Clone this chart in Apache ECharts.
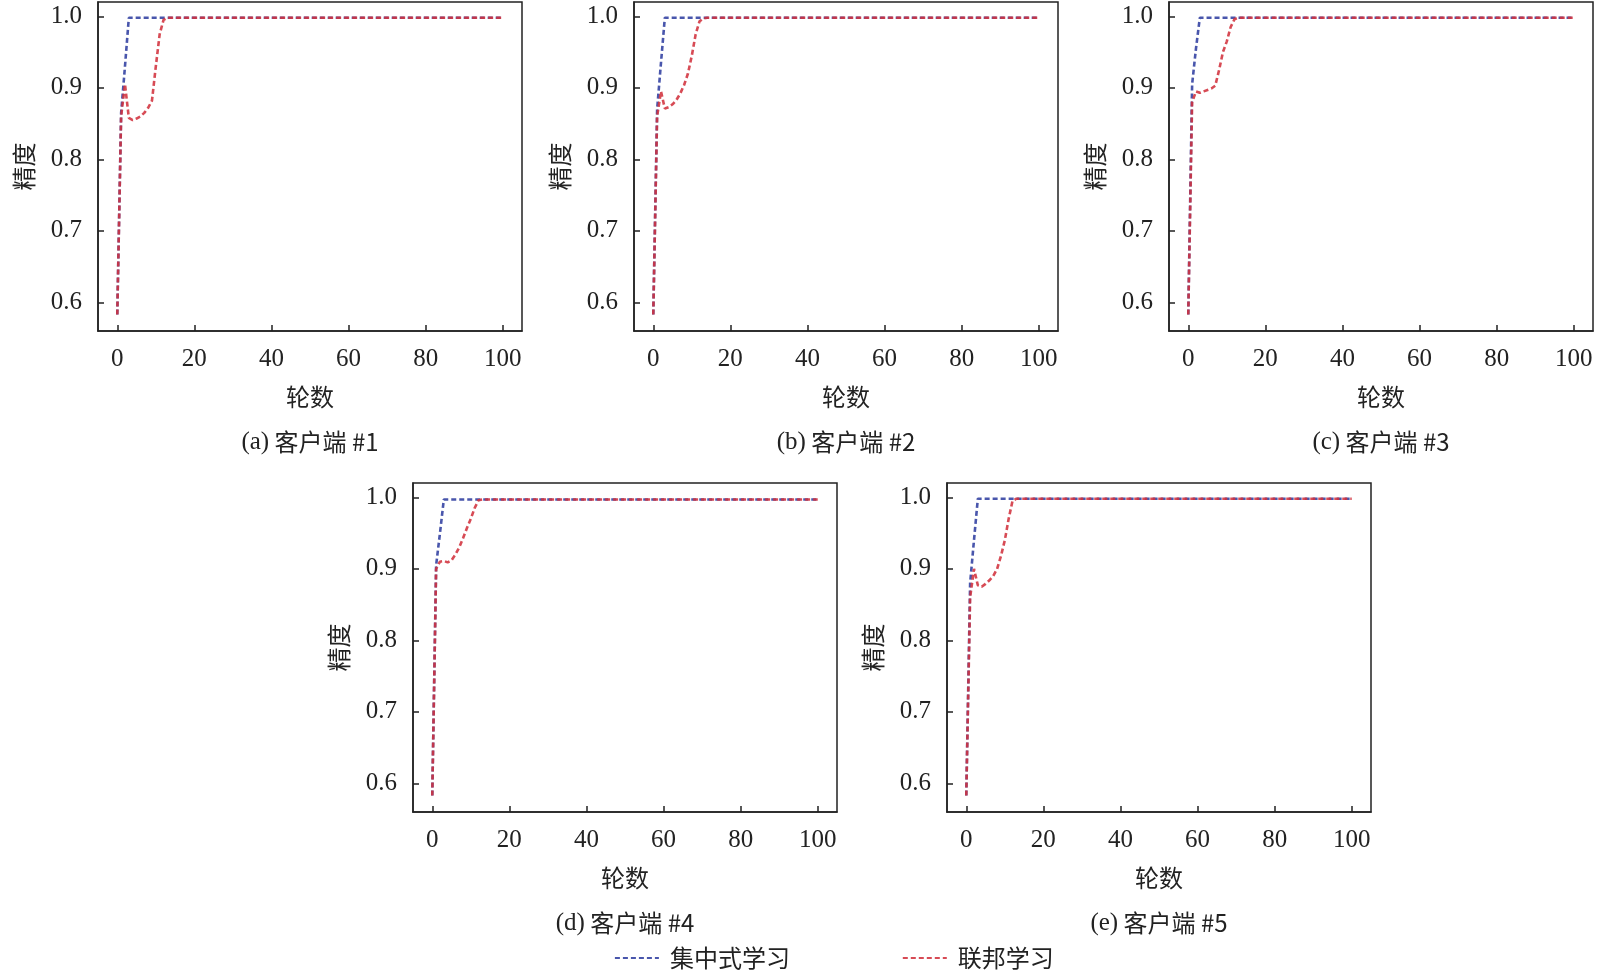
<!DOCTYPE html>
<html><head><meta charset="utf-8">
<script src="https://cdn.jsdelivr.net/npm/echarts@6/dist/echarts.min.js"></script>
<style>html,body{margin:0;padding:0;background:#fff}#c{width:1600px;height:972px}</style>
</head><body><div id="c"></div>
<script>
// ---- data ----
const rounds = [0,1,2,3,4,5,6,7,8,9,10,11,12,13,14,100];
const xTicks = [0,20,40,60,80,100];
const yTicks = [0.6,0.7,0.8,0.9,1.0];
const panelTags = ['(a)','(b)','(c)','(d)','(e)'];
const clientNames = ['客户端 #1','客户端 #2','客户端 #3','客户端 #4','客户端 #5'];
const seriesNames = ['集中式学习','联邦学习'];

const centralA = [0.583,0.865,0.930,0.998,0.998,0.998,0.998,0.998,0.998,0.998,0.998,0.998,0.998,0.998,0.998,0.998];
const fedA     = [0.583,0.860,0.905,0.858,0.855,0.857,0.860,0.865,0.872,0.882,0.930,0.975,0.995,0.998,0.998,0.998];
const centralB = [0.583,0.870,0.935,0.998,0.998,0.998,0.998,0.998,0.998,0.998,0.998,0.998,0.998,0.998,0.998,0.998];
const fedB     = [0.583,0.860,0.895,0.871,0.873,0.877,0.883,0.892,0.904,0.920,0.945,0.975,0.993,0.997,0.998,0.998];
const centralC = [0.583,0.905,0.955,0.998,0.998,0.998,0.998,0.998,0.998,0.998,0.998,0.998,0.998,0.998,0.998,0.998];
const fedC     = [0.583,0.880,0.895,0.893,0.895,0.897,0.899,0.903,0.925,0.950,0.965,0.985,0.996,0.998,0.998,0.998];
const centralD = [0.583,0.905,0.950,0.997,0.997,0.997,0.997,0.997,0.997,0.997,0.997,0.997,0.997,0.997,0.997,0.997];
const fedD     = [0.583,0.900,0.910,0.911,0.909,0.912,0.920,0.930,0.943,0.957,0.970,0.985,0.996,0.997,0.997,0.997];
const centralE = [0.583,0.880,0.940,0.998,0.998,0.998,0.998,0.998,0.998,0.998,0.998,0.998,0.998,0.998,0.998,0.998];
const fedE     = [0.583,0.860,0.900,0.877,0.875,0.879,0.884,0.890,0.900,0.918,0.940,0.970,0.995,0.998,0.998,0.998];

const centralAll = [centralA, centralB, centralC, centralD, centralE];
const fedAll = [fedA, fedB, fedC, fedD, fedE];

// ---- layout ----
const gridPos = [[98,2],[634,2],[1169,2],[413,483],[947,483]];
const GW = 424, GH = 329;
const serif = 'Liberation Serif';
const cjk = 'Noto Sans CJK SC';
const ink = '#222';
const blue = 'rgba(58,72,165,0.92)';
const red = 'rgba(210,50,62,0.88)';

const grids = [], xAxes = [], yAxes = [], series = [], graphics = [];
gridPos.forEach((p, i) => {
  grids.push({left:p[0], top:p[1], width:GW, height:GH, show:true, borderColor:ink, borderWidth:1.5, containLabel:false});
  xAxes.push({
    gridIndex:i, type:'value', min:-5, max:105,
    axisLine:{show:true, onZero:false, lineStyle:{color:ink, width:1.5}},
    axisTick:{show:true, inside:true, length:6, customValues:xTicks, lineStyle:{color:ink, width:1.5}},
    axisLabel:{customValues:xTicks, fontFamily:serif, fontSize:25, color:ink, margin:16},
    splitLine:{show:false},
    name:'轮数', nameLocation:'middle', nameGap:54,
    nameTextStyle:{fontFamily:cjk, fontSize:24, color:ink}
  });
  yAxes.push({
    gridIndex:i, type:'value', min:0.56, max:1.02,
    axisLine:{show:true, onZero:false, lineStyle:{color:ink, width:1.5}},
    axisTick:{show:true, inside:true, length:6, customValues:yTicks, lineStyle:{color:ink, width:1.5}},
    axisLabel:{customValues:yTicks, fontFamily:serif, fontSize:25, color:ink, margin:16,
      formatter:v => Number(v).toFixed(1)},
    splitLine:{show:false},
    name:'精度', nameLocation:'middle', nameRotate:90, nameGap:62,
    nameTextStyle:{fontFamily:cjk, fontSize:24, color:ink}
  });
  series.push({
    name:seriesNames[0], type:'line', xAxisIndex:i, yAxisIndex:i,
    data: rounds.map((r, k) => [r, centralAll[i][k]]),
    showSymbol:false, symbol:'none', smooth:false,
    lineStyle:{color:blue, width:2.6, type:[5,3]}, itemStyle:{color:blue}, z:2
  });
  series.push({
    name:seriesNames[1], type:'line', xAxisIndex:i, yAxisIndex:i,
    data: rounds.map((r, k) => [r, fedAll[i][k]]),
    showSymbol:false, symbol:'none', smooth:false,
    lineStyle:{color:red, width:2.6, type:[5,3]}, itemStyle:{color:red}, z:3
  });
  graphics.push({
    type:'text', x:p[0] + GW/2, y:p[1] + 440,
    style:{
      text:'{p|' + panelTags[i] + '} {t|' + clientNames[i] + '}',
      rich:{p:{fontFamily:serif, fontSize:25, fill:ink}, t:{fontFamily:cjk, fontSize:24, fill:ink}},
      font:'24px ' + cjk, fill:ink, align:'center', verticalAlign:'middle'
    }
  });
});

const chart = echarts.init(document.getElementById('c'), null, {renderer:'canvas'});
chart.setOption({
  backgroundColor:'#fff',
  animation:false,
  grid:grids, xAxis:xAxes, yAxis:yAxes, series:series,
  graphic:graphics,
  legend:{
    data:seriesNames, left:609, top:941, itemWidth:44, itemHeight:14, itemGap:112,
    itemStyle:{opacity:0, borderWidth:0},
    lineStyle:{width:1.8},
    textStyle:{fontFamily:cjk, fontSize:24, color:ink, padding:[0,0,0,6]}
  }
});
</script></body></html>
